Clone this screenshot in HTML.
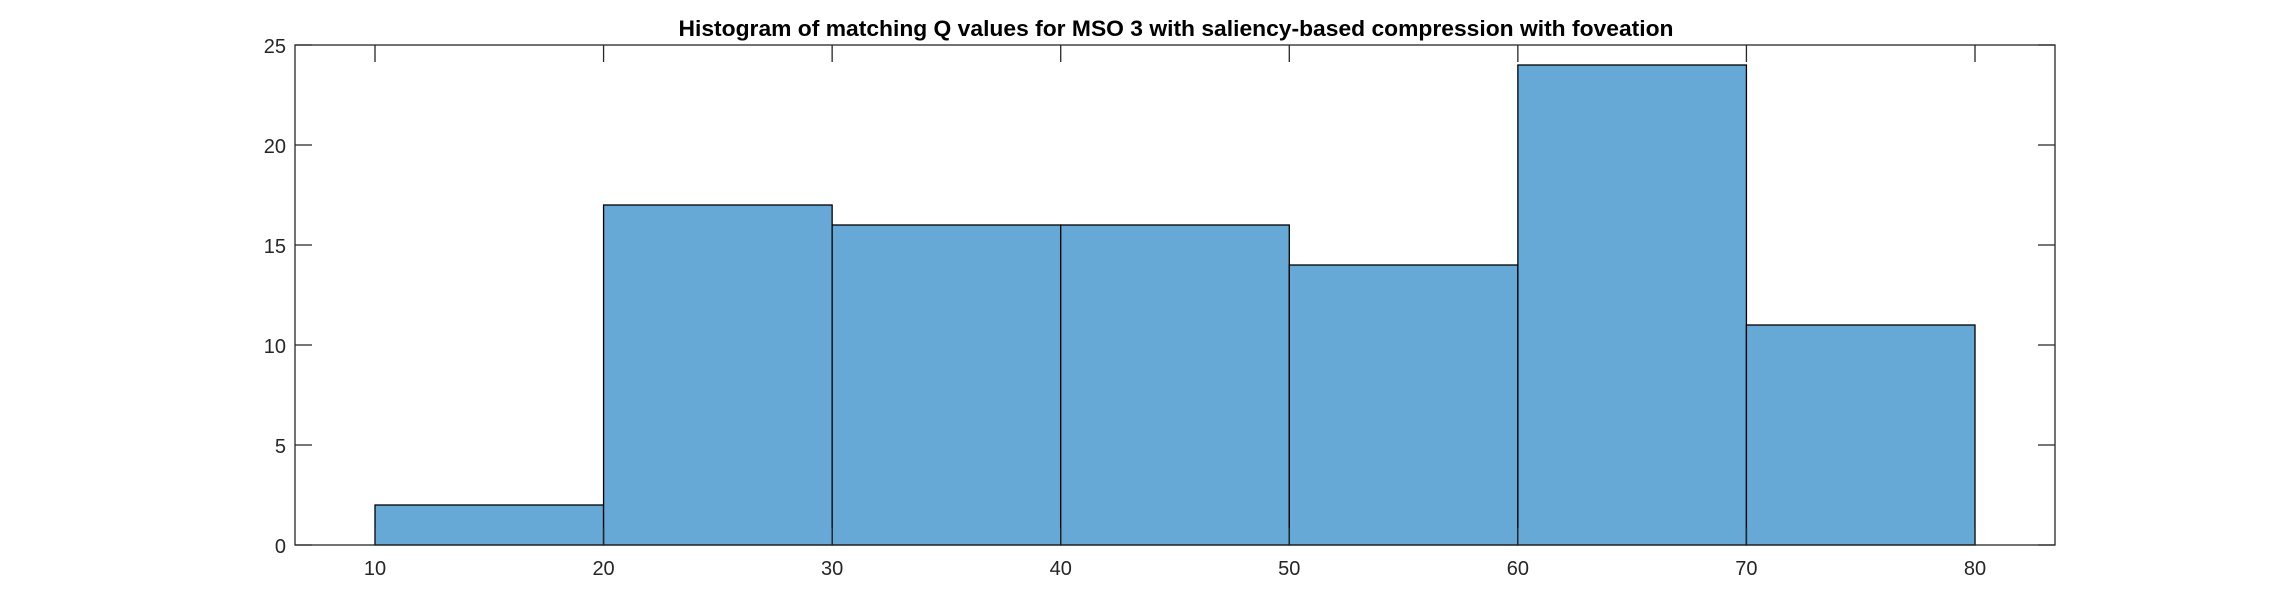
<!DOCTYPE html>
<html><head><meta charset="utf-8"><style>
html,body{margin:0;padding:0;background:#fff;}
svg{display:block;font-family:"Liberation Sans",Arial,sans-serif;}
</style></head><body>
<svg id="chart" width="2272" height="613" viewBox="0 0 2272 613" xmlns="http://www.w3.org/2000/svg">
<rect width="2272" height="613" fill="#fff"/>
<text x="1176" y="36" text-anchor="middle" font-size="22.5" font-weight="bold" fill="#000" textLength="995" lengthAdjust="spacingAndGlyphs">Histogram of matching Q values for MSO 3 with saliency-based compression with foveation</text>
<g id="bars"></g>
<g id="axes"></g>
</svg>
<script>
const binEdges = [10, 20, 30, 40, 50, 60, 70, 80];
const counts = [2, 17, 16, 16, 14, 24, 11];
const xTicks = [10, 20, 30, 40, 50, 60, 70, 80];
const yTicks = [0, 5, 10, 15, 20, 25];

const L = 295, R = 2055, T = 45, B = 545;
const xMin = 6.5, xMax = 83.5, yMin = 0, yMax = 25;
const xs = v => L + (v - xMin) / (xMax - xMin) * (R - L);
const ys = v => B - (v - yMin) / (yMax - yMin) * (B - T);
const NS = "http://www.w3.org/2000/svg";
const bars = document.getElementById('bars');
const axes = document.getElementById('axes');
function mk(tag, attrs, parent) {
  const e = document.createElementNS(NS, tag);
  for (const k in attrs) e.setAttribute(k, attrs[k]);
  parent.appendChild(e);
  return e;
}
counts.forEach((c, i) => {
  const x0 = xs(binEdges[i]), x1 = xs(binEdges[i + 1]);
  const r = mk('rect', {x: x0, y: ys(c), width: x1 - x0, height: ys(0) - ys(c), fill: '#66a9d6', stroke: '#000', 'stroke-width': 1.3}, bars);
  
  
});
const box = mk('rect', {x: L, y: T, width: R - L, height: B - T, fill: 'none', stroke: '#262626', 'stroke-width': 1.3}, axes);


xTicks.forEach(v => {
  const x = xs(v);
  mk('line', {x1: x, x2: x, y1: B, y2: B - 17, stroke: '#262626', 'stroke-width': 1.3}, axes);
  mk('line', {x1: x, x2: x, y1: T, y2: T + 17, stroke: '#262626', 'stroke-width': 1.3}, axes);
  const t = mk('text', {x: x, y: B + 30, 'text-anchor': 'middle', 'font-size': 20, fill: '#262626'}, axes);
  t.textContent = v;
  
  
});
yTicks.forEach(v => {
  const y = ys(v);
  mk('line', {x1: L, x2: L + 17, y1: y, y2: y, stroke: '#262626', 'stroke-width': 1.3}, axes);
  mk('line', {x1: R, x2: R - 17, y1: y, y2: y, stroke: '#262626', 'stroke-width': 1.3}, axes);
  const t = mk('text', {x: L - 9, y: y + 8, 'text-anchor': 'end', 'font-size': 20, fill: '#262626'}, axes);
  t.textContent = v;
  
  
});
</script>
</body></html>
